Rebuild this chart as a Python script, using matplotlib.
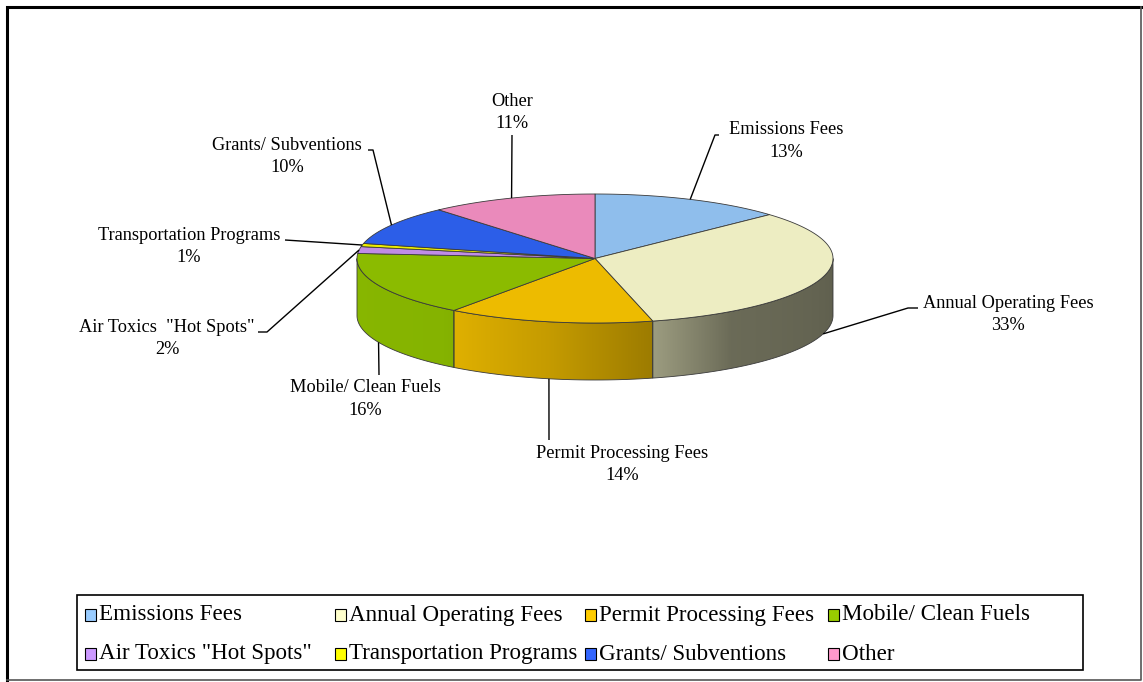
import numpy as np
import matplotlib
matplotlib.use("Agg")
import matplotlib.pyplot as plt
from matplotlib.patches import Polygon, Rectangle
from matplotlib.colors import to_rgb

# ---------------- data ----------------
categories = ['Emissions Fees', 'Annual Operating Fees', 'Permit Processing Fees',
              'Mobile/ Clean Fuels', 'Air Toxics "Hot Spots"', 'Transportation Programs',
              'Grants/ Subventions', 'Other']
shares = [13.1, 33.0, 14.0, 16.15, 1.7, 0.8, 9.85, 11.4]
pct_labels = ['13%', '33%', '14%', '16%', '2%', '1%', '10%', '11%']
label_names = ['Emissions Fees', 'Annual Operating Fees', 'Permit Processing Fees',
               'Mobile/ Clean Fuels', 'Air Toxics  "Hot Spots"', 'Transportation Programs',
               'Grants/ Subventions', 'Other']

# ---------------- style ----------------
top_colors = ['#8FBEEC', '#EDEDC2', '#EDBB00', '#8BBB00', '#C08CE6', '#EDED00', '#2C5EE8', '#EA8ABB']
legend_colors = ['#99CCFF', '#FFFFCC', '#FFCC00', '#99CC00', '#CC99FF', '#FFFF00', '#3366FF', '#FF99CC']

W, H = 1143, 682
CX, CY, A, B, DEPTH = 595, 258.5, 238, 64.5, 57
FONT = 'Liberation Serif'
LABEL_SIZE = 13.2
LEGEND_SIZE = 16.6

# label layout (pixel positions): name center, pct center, leader path start points
label_pos = [(786, 130), (1008, 303), (622, 453), (365, 388),
             (167, 327), (189, 235), (287, 145), (512, 101)]
pct_dy = 22.5
leader_start = [[(719, 135), (715, 135)],
                [(918, 308), (908, 308)],
                [(549, 440)],
                [(379, 375)],
                [(258, 332), (267, 332)],
                [(285, 240)],
                [(368, 150), (373, 150)],
                [(512, 135)]]

legend_col_x = [85, 335, 585, 828]
legend_row_y = [615, 654]

fig = plt.figure(figsize=(W / 100, H / 100), dpi=100)
ax = fig.add_axes([0, 0, 1, 1])
ax.set_xlim(0, W)
ax.set_ylim(H, 0)
ax.axis('off')


def ex(t):
    return CX + A * np.cos(np.radians(t))


def ey(t):
    return CY - B * np.sin(np.radians(t))


def shade(t):
    return np.interp(t, [-180, -130, -101, -76, -55, 0],
                     [0.98, 0.96, 0.83, 0.66, 0.45, 0.40])


total = float(sum(shares))
cum = np.concatenate([[0], np.cumsum(shares)]) / total
starts = 90 - 360 * cum[:-1]
ends = 90 - 360 * cum[1:]
edge_col = '#3a3a3a'

# front side wall: smooth gradient image clipped to the wall outline
ncol = 1200
xs_img = np.linspace(CX - A, CX + A, ncol)
t_img = -np.degrees(np.arccos(np.clip((xs_img - CX) / A, -1, 1)))  # -180..0
img = np.zeros((2, ncol, 3))
for j, t in enumerate(t_img):
    k = 0
    for i in range(len(shares)):
        lo, hi = ends[i], starts[i]
        if lo <= t <= hi or lo <= t - 360 <= hi or lo <= t + 360 <= hi:
            k = i
            break
    img[:, j, :] = np.clip(np.array(to_rgb(top_colors[k])) * shade(t), 0, 1)
im = ax.imshow(img, extent=(CX - A, CX + A, CY + B + DEPTH + 2, CY - 2),
               aspect='auto', interpolation='bilinear', zorder=1)
tt = np.linspace(-180, 0, 400)
wall = list(zip(ex(tt), ey(tt))) + list(zip(ex(tt[::-1]), ey(tt[::-1]) + DEPTH))
clip_poly = Polygon(wall, closed=True, facecolor='none', edgecolor='none',
                    transform=ax.transData)
ax.add_patch(clip_poly)
im.set_clip_path(clip_poly)

for i in range(len(shares)):
    lo, hi = max(ends[i], -180), min(starts[i], 0)
    if hi <= lo:
        continue
    tt = np.linspace(lo, hi, 200)
    outline = list(zip(ex(tt), ey(tt))) + list(zip(ex(tt[::-1]), ey(tt[::-1]) + DEPTH))
    ax.add_patch(Polygon(outline, closed=True, fill=False, edgecolor=edge_col,
                         lw=0.6, zorder=2))

# top faces
for i in range(len(shares)):
    tt = np.linspace(starts[i], ends[i], 200)
    pts = [(CX, CY)] + list(zip(ex(tt), ey(tt)))
    ax.add_patch(Polygon(pts, closed=True, facecolor=top_colors[i],
                         edgecolor=edge_col, lw=0.6, zorder=3))

# labels and leader lines
for i in range(len(shares)):
    mid = (starts[i] + ends[i]) / 2
    axx, ayy = ex(mid), ey(mid)
    if np.sin(np.radians(mid)) < 0:
        ayy += DEPTH
    path = leader_start[i] + [(axx, ayy)]
    xs, ys = zip(*path)
    ax.plot(xs, ys, color='black', lw=1.0, solid_capstyle='butt', zorder=4)
    lx, ly = label_pos[i]
    ax.text(lx, ly, label_names[i], ha='center', va='center', family=FONT,
            fontsize=LABEL_SIZE, color='black')
    ax.text(lx, ly + pct_dy, pct_labels[i], ha='center', va='center', family=FONT,
            fontsize=LABEL_SIZE, color='black')

# legend
ax.add_patch(Rectangle((77, 595), 1006, 75, fill=False, edgecolor='black', lw=1.2))
for i, name in enumerate(categories):
    x0 = legend_col_x[i % 4]
    y0 = legend_row_y[i // 4]
    ax.add_patch(Rectangle((x0, y0 - 6), 11, 12, facecolor=legend_colors[i],
                           edgecolor='black', lw=0.8))
    ax.text(x0 + 14, y0, name, ha='left', va='center', family=FONT,
            fontsize=LEGEND_SIZE, color='black')

# outer chart frame
ax.plot([7, 7, 1141], [680, 7, 7], color='black', lw=2.2, solid_joinstyle='miter')
ax.plot([7, 1141, 1141], [680, 680, 7], color='#555555', lw=1.2)

fig.savefig('out.png', dpi=100)
